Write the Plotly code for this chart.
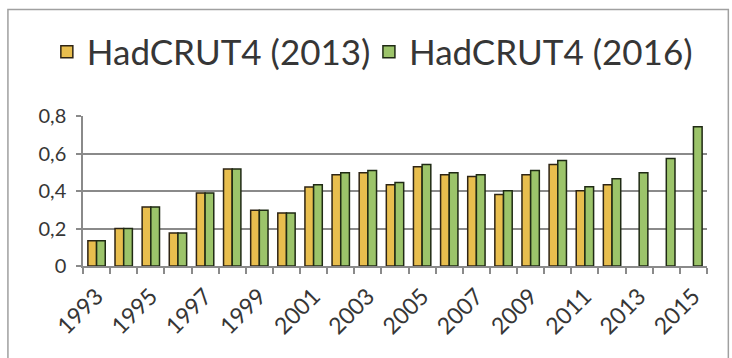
import plotly.graph_objects as go

years = list(range(1993, 2016))
hadcrut_2013 = [0.135, 0.20, 0.315, 0.176, 0.39, 0.517, 0.297, 0.283, 0.421, 0.487, 0.498,
                0.434, 0.530, 0.487, 0.477, 0.381, 0.487, 0.541, 0.402, 0.434, None, None, None]
hadcrut_2016 = [0.135, 0.20, 0.315, 0.176, 0.39, 0.517, 0.297, 0.283, 0.434, 0.498, 0.509,
                0.445, 0.541, 0.498, 0.487, 0.402, 0.509, 0.562, 0.423, 0.466, 0.498, 0.573, 0.743]
tick_years = [y for y in years if y % 2 == 1]
tick_labels = [str(y) for y in tick_years]
boundaries = [y - 0.5 for y in years] + [years[-1] + 0.5]

FONT = "Lato, Calibri, Carlito, sans-serif"
TXT = "#363636"
GRID = "#8a8a8a"

fig = go.Figure()
fig.add_trace(go.Bar(x=years, y=hadcrut_2013, name="HadCRUT4 (2013)", legend="legend",
                     marker=dict(color="#E8BE4E", line=dict(color="#2e2414", width=1.5))))
fig.add_trace(go.Bar(x=years, y=hadcrut_2016, name="HadCRUT4 (2016)", legend="legend2",
                     marker=dict(color="#9CC46A", line=dict(color="#1f2a14", width=1.5))))

leg_common = dict(orientation="h", xref="container", yref="container",
                  xanchor="left", y=0.855, yanchor="middle",
                  font=dict(size=35, family=FONT, color=TXT), itemwidth=30,
                  bgcolor="rgba(0,0,0,0)")

fig.update_layout(
    width=732, height=358,
    margin=dict(l=83, r=25, t=116, b=92, autoexpand=False),
    paper_bgcolor="white", plot_bgcolor="white",
    barmode="group", bargap=0.36, bargroupgap=0,
    separators=", ",
    font=dict(family=FONT, color=TXT),
    legend=dict(x=0.064, **leg_common),
    legend2=dict(x=0.504, **leg_common),
    xaxis=dict(range=[1992.5, 2015.5], tickmode="array", tickvals=tick_years,
               ticktext=tick_labels, ticks="", tickangle=-45,
               tickfont=dict(size=23, family=FONT, color=TXT),
               ticklabelstandoff=6,
               showline=True, linecolor=GRID, linewidth=1.5, showgrid=False, zeroline=False,
               minor=dict(tickmode="array", tickvals=boundaries, ticks="outside",
                          ticklen=6, tickcolor=GRID, tickwidth=1.5, showgrid=False)),
    yaxis=dict(range=[0, 0.8], dtick=0.2, tick0=0, ticks="outside", ticklen=5,
               tickcolor=GRID, tickwidth=1.5,
               tickfont=dict(size=20, family=FONT, color=TXT),
               ticklabelstandoff=6,
               showline=True, linecolor=GRID, linewidth=1.5,
               showgrid=True, gridcolor=GRID, gridwidth=1.5, zeroline=False),
    shapes=[dict(type="rect", xref="paper", yref="paper",
                 x0=-0.1203, x1=1.0342, y0=-0.75, y1=1.71,
                 line=dict(color="#a0a0a0", width=1.5), layer="below")],
    showlegend=True,
)

fig.write_html("out.html")
